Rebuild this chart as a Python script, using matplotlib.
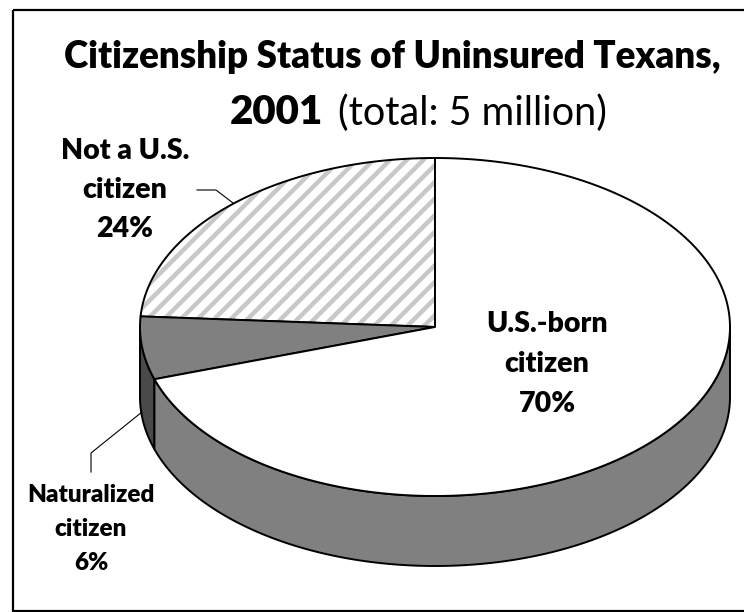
import numpy as np
import matplotlib
matplotlib.use("Agg")
import matplotlib.pyplot as plt
from matplotlib.patches import Polygon, Rectangle

plt.rcParams['font.family'] = ['Lato', 'DejaVu Sans']
plt.rcParams['hatch.linewidth'] = 3.2

# data, counter-clockwise from 12 o'clock
categories = ["Not a U.S.\ncitizen", "Naturalized\ncitizen", "U.S.-born\ncitizen"]
shares = [24, 6, 70]
top_colors = ["white", "#808080", "white"]
side_colors = ["#808080", "#4a4a4a", "#808080"]
hatches = ["//", None, None]

# pie geometry (pixels)
cx, cy = 435, 327
ra, rb = 295, 169
depth = 70

def pt(t_deg, dy=0):
    t = np.radians(t_deg)
    return cx + ra * np.cos(t), cy - rb * np.sin(t) + dy

fig = plt.figure(figsize=(7.44, 6.12), dpi=100)
ax = fig.add_axes([0, 0, 1, 1])
ax.set_xlim(0, 744)
ax.set_ylim(612, 0)
ax.axis("off")

starts = 90 + 360 * np.concatenate([[0], np.cumsum(shares)[:-1]]) / sum(shares)
ends = 90 + 360 * np.cumsum(shares) / sum(shares)

# sides (front half only: 180..360 deg)
for s, e, sc in zip(starts, ends, side_colors):
    lo, hi = max(s, 180), min(e, 360)
    if hi <= lo:
        continue
    ts = np.linspace(lo, hi, 200)
    x, y = pt(ts)
    xs = np.concatenate([x, x[::-1]])
    ys = np.concatenate([y, y[::-1] + depth])
    ax.add_patch(Polygon(np.column_stack([xs, ys]), closed=True, facecolor=sc,
                         edgecolor="black", lw=1.4, joinstyle="round"))

# top faces
for s, e, tc, h in zip(starts, ends, top_colors, hatches):
    ts = np.linspace(s, e, 300)
    x, y = pt(ts)
    verts = np.column_stack([np.concatenate([[cx], x]), np.concatenate([[cy], y])])
    if h:
        ax.add_patch(Polygon(verts, closed=True, facecolor="white",
                             edgecolor="#c8c8c8", lw=0, hatch=h))
        ax.add_patch(Polygon(verts, closed=True, facecolor="none",
                             edgecolor="black", lw=1.4, joinstyle="round"))
    else:
        ax.add_patch(Polygon(verts, closed=True, facecolor=tc,
                             edgecolor="black", lw=1.4, joinstyle="round"))

# labels
pcts = [f"{v}%" for v in shares]
lab_pos = [(125, 151, 39, 20.5), (91, 495, 34, 17.5), (547, 324, 40, 20.5)]
for cat, p, (lx, ly, step, fs) in zip(categories, pcts, lab_pos):
    lines = cat.split("\n") + [p]
    for i, ln in enumerate(lines):
        ax.text(lx, ly + i * step, ln, ha="center", va="center",
                fontsize=fs, fontweight="heavy")

# leader lines
ax.plot([197, 216, 233], [190, 190, 203], color="black", lw=0.8)
ax.plot([142, 91, 91], [412, 453, 472], color="black", lw=0.8)

# title
ax.text(392, 57, "Citizenship Status of Uninsured Texans,", ha="center",
        va="center", fontsize=26.5, fontweight="heavy")
t1 = ax.text(0, 113, "2001", ha="left", va="center", fontsize=29, fontweight="heavy")
t2 = ax.text(0, 113, "(total: 5 million)", ha="left", va="center", fontsize=28.5)
fig.canvas.draw()
r = fig.canvas.get_renderer()
w1 = t1.get_window_extent(r).width
w2 = t2.get_window_extent(r).width
gap = 15
x0 = 418 - (w1 + gap + w2) / 2
t1.set_x(x0)
t2.set_x(x0 + w1 + gap)

# frame
ax.add_patch(Rectangle((13, 10), 760, 601, facecolor="none", edgecolor="black",
                       lw=1.6, clip_on=False))

fig.savefig("out.png", dpi=100)
